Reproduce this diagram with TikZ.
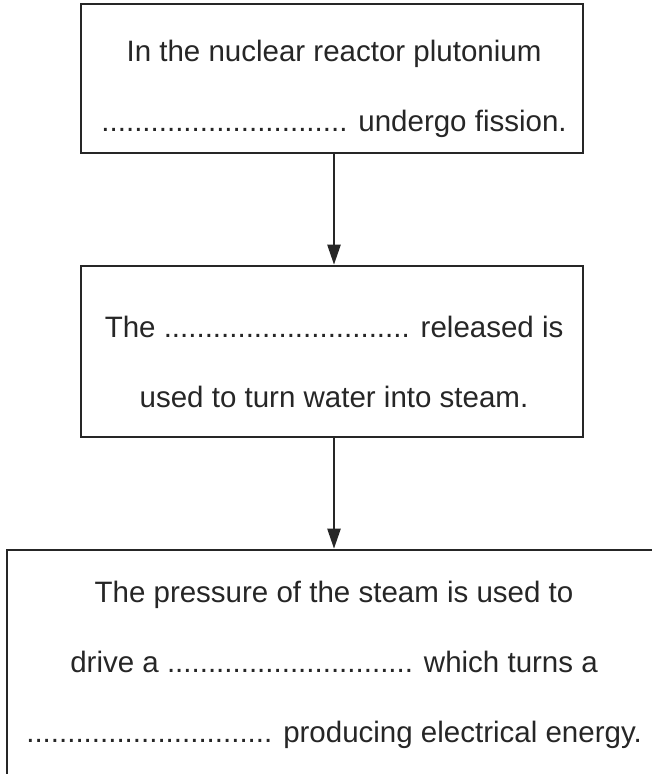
\documentclass[tikz,border=0pt]{standalone}
\usepackage{fontspec}
\setmainfont{Liberation Sans}
\usetikzlibrary{arrows.meta}
\begin{document}
\begin{tikzpicture}[x=1pt,y=-1pt,
  boxstyle/.style={draw=black!85,line width=2.6pt,rectangle,inner sep=0pt},
  txt/.style={font=\fontsize{29.5}{70}\selectfont,align=center,text=black!85,anchor=base},
  conn/.style={draw=black!85,line width=2.4pt,-{Triangle[length=20pt,width=13pt]}}]
\useasboundingbox (0,0) rectangle (651,774);
\node[boxstyle,minimum width=502pt,minimum height=149pt] (b1) at (332,78.5) {};
\node[boxstyle,minimum width=502pt,minimum height=171pt] (b2) at (332,351.5) {};
\node[boxstyle,minimum width=700pt,minimum height=300pt] (b3) at (357,700) {};
\node[txt] (t1) at (334,131.5) {In the nuclear reactor plutonium\\.............................. undergo fission.};
\node[txt] (t2) at (334,407) {The .............................. released is\\used to turn water into steam.};
\node[txt] (t3) at (334,742) {The pressure of the steam is used to\\drive a .............................. which turns a\\.............................. producing electrical energy.};
\draw[conn] (b1.south -| 334,0) -- (b2.north -| 334,0);
\draw[conn] (b2.south -| 334,0) -- (b3.north -| 334,0);
\end{tikzpicture}
\end{document}
